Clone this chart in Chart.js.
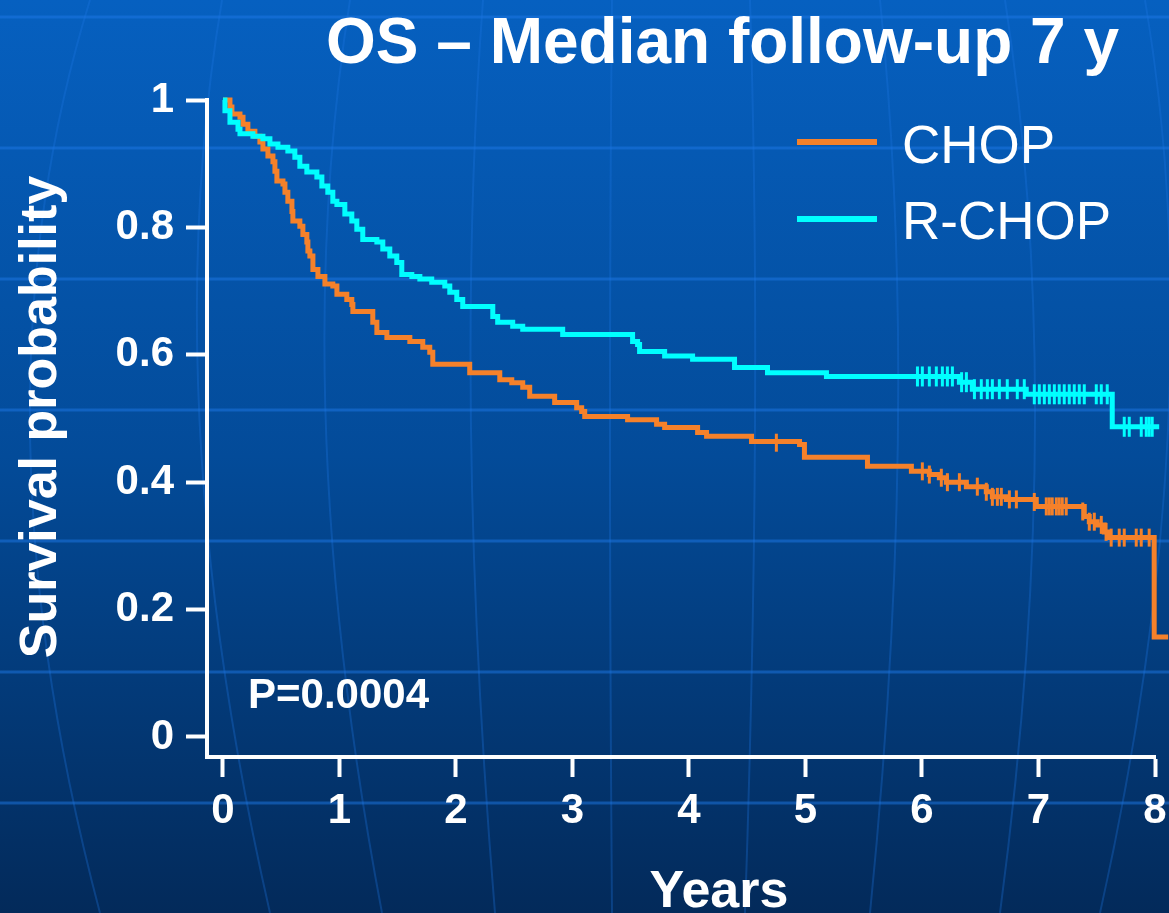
<!DOCTYPE html>
<html>
<head>
<meta charset="utf-8">
<script src="https://cdn.jsdelivr.net/npm/chart.js@4.4.1/dist/chart.umd.min.js"></script>
<style>
  html, body { margin: 0; padding: 0; background: #023a78; overflow: hidden; }
  canvas { display: block; }
</style>
</head>
<body>
<canvas id="osChart" width="1169" height="913"></canvas>
<script>
// Kaplan-Meier steps (time in years, survival after the drop)
const chopTime = [0, 0.06, 0.077, 0.146, 0.172, 0.214, 0.274, 0.317, 0.343, 0.386, 0.429, 0.446, 0.463, 0.515, 0.532,
  0.557, 0.592, 0.60, 0.66, 0.686, 0.72, 0.729, 0.746, 0.772, 0.815, 0.875, 0.943, 0.978, 1.063, 1.106, 1.115,
  1.286, 1.321, 1.407, 1.604, 1.715, 1.775, 1.801, 2.118, 2.376, 2.479, 2.573, 2.633, 2.847, 3.036, 3.079, 3.105,
  3.473, 3.722, 3.791, 4.074, 4.151, 4.537, 4.949, 4.991, 5.532, 5.909, 6.063, 6.149, 6.209, 6.381, 6.552, 6.604,
  6.724, 6.981, 7.393, 7.436, 7.504, 7.564, 7.607, 7.993, 8.113];
const chopSurv = [1, 0.989, 0.978, 0.973, 0.962, 0.951, 0.943, 0.934, 0.923, 0.912, 0.903, 0.888, 0.873, 0.868, 0.855,
  0.841, 0.825, 0.81, 0.802, 0.789, 0.777, 0.763, 0.755, 0.734, 0.723, 0.711, 0.708, 0.695, 0.687, 0.679, 0.668,
  0.651, 0.635, 0.627, 0.621, 0.612, 0.604, 0.585, 0.572, 0.561, 0.556, 0.549, 0.535, 0.525, 0.517, 0.511, 0.503,
  0.498, 0.491, 0.486, 0.478, 0.472, 0.464, 0.459, 0.439, 0.425, 0.417, 0.412, 0.407, 0.40, 0.393, 0.385, 0.377,
  0.373, 0.362, 0.346, 0.338, 0.333, 0.322, 0.313, 0.157, 0.157];

const rchopTime = [0, 0.017, 0.06, 0.129, 0.146, 0.257, 0.343, 0.403, 0.472, 0.557, 0.617, 0.66, 0.72, 0.806, 0.849,
  0.9, 0.943, 0.978, 1.046, 1.106, 1.149, 1.2, 1.321, 1.372, 1.432, 1.492, 1.535, 1.621, 1.69, 1.792, 1.904, 1.947,
  2.007, 2.058, 2.316, 2.358, 2.487, 2.573, 2.916, 3.516, 3.559, 3.576, 3.791, 4.031, 4.391, 4.674, 5.18, 6.321,
  6.432, 6.895, 7.633, 8.036];
const rchopSurv = [1, 0.983, 0.965, 0.954, 0.947, 0.943, 0.939, 0.931, 0.926, 0.92, 0.91, 0.896, 0.887, 0.879, 0.865,
  0.855, 0.841, 0.836, 0.821, 0.81, 0.797, 0.781, 0.777, 0.766, 0.755, 0.745, 0.726, 0.723, 0.719, 0.714, 0.708, 0.698,
  0.687, 0.676, 0.66, 0.651, 0.645, 0.64, 0.632, 0.621, 0.616, 0.605, 0.598, 0.593, 0.58, 0.572, 0.566, 0.557,
  0.546, 0.538, 0.487, 0.487];

// censored patients (+ marks)
const chopCensTime = [4.75, 6.003, 6.063, 6.166, 6.218, 6.321, 6.475, 6.552, 6.604, 6.647, 6.681, 6.75, 6.81, 6.964,
  7.067, 7.093, 7.118, 7.153, 7.178, 7.204, 7.238, 7.38, 7.436, 7.479, 7.539, 7.58, 7.624, 7.693, 7.736, 7.839, 7.882, 7.95];
const chopCensSurv = [0.462, 0.417, 0.412, 0.407, 0.40, 0.40, 0.393, 0.385, 0.377, 0.377, 0.377, 0.373, 0.373, 0.369,
  0.362, 0.362, 0.362, 0.362, 0.362, 0.362, 0.362, 0.354, 0.338, 0.338, 0.333, 0.322, 0.313, 0.313, 0.313, 0.313, 0.313, 0.313];

const rchopCensTime = [5.961, 6.003, 6.063, 6.123, 6.175, 6.218, 6.261, 6.34, 6.381, 6.45, 6.509, 6.561, 6.604, 6.664,
  6.732, 6.818, 6.878, 6.964, 7.007, 7.05, 7.093, 7.136, 7.178, 7.221, 7.264, 7.307, 7.35, 7.393, 7.496, 7.539, 7.59,
  7.736, 7.779, 7.882, 7.925, 7.95, 7.976];
const rchopCensSurv = [0.566, 0.566, 0.566, 0.566, 0.566, 0.566, 0.566, 0.557, 0.557, 0.546, 0.546, 0.546, 0.546, 0.546,
  0.546, 0.546, 0.546, 0.538, 0.538, 0.538, 0.538, 0.538, 0.538, 0.538, 0.538, 0.538, 0.538, 0.538, 0.538, 0.538, 0.538,
  0.487, 0.487, 0.487, 0.487, 0.487, 0.487];

const xTicks = [0, 1, 2, 3, 4, 5, 6, 7, 8];
const yTicks = [0, 0.2, 0.4, 0.6, 0.8, 1];
const yTickLabels = ['0', '0.2', '0.4', '0.6', '0.8', '1'];

const ORANGE = '#f5812a';
const CYAN = '#00ffff';
const FONT = '"Liberation Sans", Arial, sans-serif';

const toPoints = (xs, ys) => xs.map((x, i) => ({ x: x, y: ys[i] }));

// slide background: blue gradient with faint globe lines
const backgroundPlugin = {
  id: 'slideBackground',
  beforeDraw(chart) {
    const ctx = chart.ctx;
    const w = chart.width, h = chart.height;
    ctx.save();
    const g = ctx.createLinearGradient(0, 0, 0, h);
    g.addColorStop(0, '#0660c0');
    g.addColorStop(0.5, '#034b99');
    g.addColorStop(1, '#032a5a');
    ctx.fillStyle = g;
    ctx.fillRect(0, 0, w, h);

    ctx.strokeStyle = 'rgba(30,120,230,0.5)';
    ctx.lineWidth = 3;
    [17, 148, 279, 410, 541, 672, 803].forEach(y => {
      ctx.beginPath();
      ctx.moveTo(0, y);
      ctx.lineTo(w, y);
      ctx.stroke();
    });
    ctx.lineWidth = 2;
    ctx.strokeStyle = 'rgba(30,120,230,0.3)';
    const meridians = [
      [90, 30, 100], [222, 200, 270], [350, 326, 382], [483, 471, 495], [612, 610, 612],
      [750, 755, 745], [880, 898, 870], [1005, 1035, 1000], [1145, 1168, 1100]
    ];
    meridians.forEach(m => {
      const mid = 430;
      const cx = 2 * m[1] - (m[0] + m[2]) / 2;
      const cy = 2 * mid - h / 2;
      ctx.beginPath();
      ctx.moveTo(m[0], 0);
      ctx.quadraticCurveTo(cx, cy, m[2], h);
      ctx.stroke();
    });
    ctx.restore();
  }
};

// title, axis titles, p-value and legend
const textPlugin = {
  id: 'slideText',
  afterDraw(chart) {
    const ctx = chart.ctx;
    ctx.save();
    ctx.fillStyle = '#ffffff';
    ctx.textBaseline = 'alphabetic';

    ctx.font = 'bold 64px ' + FONT;
    ctx.textAlign = 'left';
    ctx.fillText('OS \u2013 Median follow-up 7 y', 326, 63);

    ctx.font = 'bold 42px ' + FONT;
    ctx.fillText('P=0.0004', 248, 708);

    ctx.font = 'bold 52px ' + FONT;
    ctx.textAlign = 'center';
    ctx.fillText('Years', 719, 907);

    ctx.save();
    ctx.translate(56, 417);
    ctx.rotate(-Math.PI / 2);
    ctx.fillText('Survival probability', 0, 0);
    ctx.restore();

    // legend
    ctx.lineWidth = 6;
    ctx.strokeStyle = ORANGE;
    ctx.beginPath(); ctx.moveTo(797, 142); ctx.lineTo(877, 142); ctx.stroke();
    ctx.strokeStyle = CYAN;
    ctx.beginPath(); ctx.moveTo(797, 219); ctx.lineTo(877, 219); ctx.stroke();
    ctx.font = '53px ' + FONT;
    ctx.textAlign = 'left';
    ctx.textBaseline = 'middle';
    ctx.fillText('CHOP', 902, 148);
    ctx.fillText('R-CHOP', 902, 224);
    ctx.restore();
  }
};

new Chart(document.getElementById('osChart'), {
  type: 'line',
  data: {
    datasets: [
      {
        label: 'R-CHOP',
        data: toPoints(rchopTime, rchopSurv),
        borderColor: CYAN,
        borderWidth: 5,
        stepped: true,
        pointRadius: 0,
        clip: false
      },
      {
        label: 'CHOP',
        data: toPoints(chopTime, chopSurv),
        borderColor: ORANGE,
        borderWidth: 5,
        stepped: true,
        pointRadius: 0,
        clip: false
      },
      {
        label: 'R-CHOP censored',
        data: toPoints(rchopCensTime, rchopCensSurv),
        showLine: false,
        pointStyle: 'line',
        rotation: 90,
        pointRadius: 10,
        pointBorderWidth: 3,
        pointBorderColor: CYAN,
        clip: false
      },
      {
        label: 'CHOP censored',
        data: toPoints(chopCensTime, chopCensSurv),
        showLine: false,
        pointStyle: 'line',
        rotation: 90,
        pointRadius: 9,
        pointBorderWidth: 3,
        pointBorderColor: ORANGE,
        clip: false
      }
    ]
  },
  options: {
    responsive: false,
    animation: false,
    layout: { autoPadding: false, padding: { top: 100, right: 14, left: 0, bottom: 0 } },
    plugins: {
      legend: { display: false },
      tooltip: { enabled: false }
    },
    scales: {
      x: {
        type: 'linear',
        min: -0.137,
        max: 8,
        afterBuildTicks: axis => { axis.ticks = xTicks.map(v => ({ value: v })); },
        afterFit: axis => { axis.height = 156; axis.paddingLeft = 0; axis.paddingRight = 0; },
        border: { display: true, color: '#ffffff', width: 4 },
        grid: { drawOnChartArea: false, drawTicks: true, tickLength: 20, tickWidth: 4, tickColor: '#ffffff' },
        ticks: {
          color: '#ffffff',
          padding: 9,
          maxRotation: 0,
          autoSkip: false,
          font: { family: FONT, size: 42, weight: 'bold' },
          callback: v => String(v)
        }
      },
      y: {
        type: 'linear',
        min: -0.0314,
        max: 1,
        afterBuildTicks: axis => { axis.ticks = yTicks.map(v => ({ value: v })); },
        afterFit: axis => { axis.width = 207; axis.paddingTop = 0; axis.paddingBottom = 0; },
        border: { display: true, color: '#ffffff', width: 4 },
        grid: { drawOnChartArea: false, drawTicks: true, tickLength: 21, tickWidth: 4, tickColor: '#ffffff' },
        ticks: {
          color: '#ffffff',
          padding: 12,
          autoSkip: false,
          font: { family: FONT, size: 42, weight: 'bold' },
          callback: v => yTickLabels[yTicks.indexOf(v)]
        }
      }
    }
  },
  plugins: [backgroundPlugin, textPlugin]
});
</script>
</body>
</html>
